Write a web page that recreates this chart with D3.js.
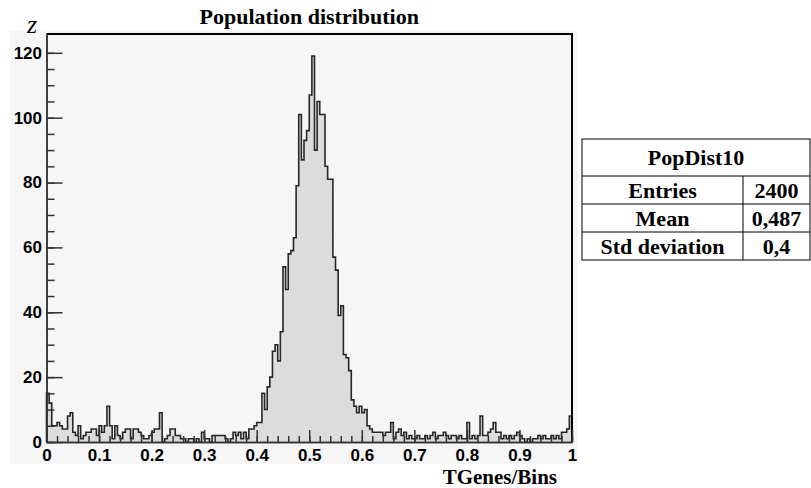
<!DOCTYPE html>
<html><head><meta charset="utf-8">
<script src="https://cdn.jsdelivr.net/npm/d3@7"></script>
<style>body{margin:0;background:#fff;} svg{display:block;}</style>
</head><body>
<svg id="c" width="811" height="488"></svg>
<script>
// ---- data ----
const binEdges = [0, 1];          // histogram range
const counts = [
 15,12,5,5,6,5,4,4,8,9,
 3,2,5,1,2,3,3,4,4,2,
 5,3,5,11,5,1,5,2,1,3,
 4,4,1,4,4,3,2,1,1,2,
 3,4,4,9,0,1,2,4,4,2,
 2,1,1,0,1,1,0,1,0,3,
 1,1,0,2,2,2,2,2,1,0,
 1,3,2,3,1,3,1,4,4,5,
 6,6,15,10,17,20,28,30,25,34,
 54,47,58,59,63,79,101,87,93,96,
 107,119,90,105,101,101,85,81,81,57,
 53,39,42,27,26,22,13,11,9,11,
 9,10,5,4,3,3,3,3,2,3,
 3,6,1,3,4,2,3,1,2,1,
 1,2,1,1,2,1,2,3,1,2,
 2,3,2,1,2,2,1,2,1,1,
 6,1,2,1,2,8,2,2,3,4,
 6,3,3,1,2,1,2,1,2,3,
 2,1,0,1,0,1,1,2,1,2,
 1,1,2,1,2,1,3,3,4,8
];
const xTickValues = [0,0.1,0.2,0.3,0.4,0.5,0.6,0.7,0.8,0.9,1];
const xTickLabels = ["0","0.1","0.2","0.3","0.4","0.5","0.6","0.7","0.8","0.9","1"];
const yTickValues = [0,20,40,60,80,100,120];
const yTickLabels = ["0","20","40","60","80","100","120"];
const yMaxDomain = 125.8;
const titleText = "Population distribution";
const xTitle = "TGenes/Bins";
const yTitle = "z";
const statsName = "PopDist10";
const statsLabels = ["Entries","Mean","Std deviation"];
const statsValues = ["2400","0,487","0,4"];

// ---- layout ----
const svg = d3.select("#c");
const L = 46.5, R = 572, T = 34, B = 442;
const x = d3.scaleLinear().domain(binEdges).range([L, R]);
const y = d3.scaleLinear().domain([0, yMaxDomain]).range([B, T]);

// pad background
svg.append("rect").attr("x",10).attr("y",31).attr("width",568).attr("height",433).attr("fill","#f6f6f6");

// histogram
const n = counts.length, w = (binEdges[1]-binEdges[0])/n;
const pts = [];
counts.forEach((c,i)=>{ pts.push([binEdges[0]+i*w, c]); pts.push([binEdges[0]+(i+1)*w, c]); });
const area = d3.area().x(d=>x(d[0])).y0(y(0)).y1(d=>y(d[1]));
svg.append("path").attr("d", area(pts)).attr("fill","#dcdcdc");
const linePts = [[binEdges[0],0], ...pts, [binEdges[1],0]];
const line = d3.line().x(d=>x(d[0])).y(d=>y(d[1]));
svg.append("path").attr("d", line(linePts)).attr("fill","none").attr("stroke","#262626").attr("stroke-width",1.6);

// frame top/right
svg.append("path").attr("d",`M${L},${T}H${R}V${B}`).attr("fill","none").attr("stroke","#000").attr("stroke-width",2);

// axes
const fontAx = "bold 17px 'Liberation Sans', Arial, sans-serif";
const yMinor = d3.range(0, 121, 5);
svg.append("g").attr("transform",`translate(${L},0)`)
  .call(d3.axisLeft(y).tickValues(yMinor).tickSize(-8).tickSizeOuter(0).tickFormat(""))
  .call(g=>g.selectAll("line,path").attr("stroke","#333").attr("stroke-width",1.5));
svg.append("g").attr("transform",`translate(${L},0)`)
  .call(d3.axisLeft(y).tickValues(yTickValues).tickSize(-16).tickSizeOuter(0).tickPadding(4.5)
        .tickFormat((d,i)=>yTickLabels[i]))
  .call(g=>g.selectAll("line,path").attr("stroke","#333").attr("stroke-width",1.5))
  .call(g=>g.selectAll("text").style("font",fontAx).attr("fill","#000"));

const xMinor = d3.range(0, 51).map(i=>i*0.02);
svg.append("g").attr("transform",`translate(0,${B})`)
  .call(d3.axisBottom(x).tickValues(xMinor).tickSize(-6).tickSizeOuter(0).tickFormat(""))
  .call(g=>g.selectAll("line,path").attr("stroke","#333").attr("stroke-width",1.5));
svg.append("g").attr("transform",`translate(0,${B})`)
  .call(d3.axisBottom(x).tickValues(xTickValues).tickSize(-12).tickSizeOuter(0).tickPadding(6.5)
        .tickFormat((d,i)=>xTickLabels[i]))
  .call(g=>g.selectAll("line,path").attr("stroke","#333").attr("stroke-width",1.5))
  .call(g=>g.selectAll("text").style("font",fontAx).attr("fill","#000"));

// titles
const serifB = "bold 22px 'Liberation Serif', 'Times New Roman', serif";
svg.append("text").attr("x",(L+R)/2).attr("y",24).attr("text-anchor","middle").style("font",serifB).text(titleText);
svg.append("text").attr("x",557).attr("y",484).attr("text-anchor","end")
  .style("font","bold 21px 'Liberation Serif', 'Times New Roman', serif").text(xTitle);
svg.append("text").attr("x",32).attr("y",33).attr("text-anchor","middle")
  .style("font","italic 26px 'Liberation Serif', 'Times New Roman', serif").text(yTitle);

// stats table
const tx0 = 582, tx1 = 810, tcol = 743, rows = [139,176,204,232,260];
const tg = svg.append("g");
tg.append("rect").attr("x",tx0).attr("y",rows[0]).attr("width",tx1-tx0).attr("height",rows[4]-rows[0])
  .attr("fill","#fff").attr("stroke","#000").attr("stroke-width",1);
rows.slice(1,4).forEach(r=>tg.append("line").attr("x1",tx0).attr("x2",tx1).attr("y1",r).attr("y2",r).attr("stroke","#000"));
tg.append("line").attr("x1",tcol).attr("x2",tcol).attr("y1",rows[1]).attr("y2",rows[4]).attr("stroke","#000");
tg.append("text").attr("x",(tx0+tx1)/2).attr("y",(rows[0]+rows[1])/2).attr("dy","0.35em")
  .attr("text-anchor","middle").style("font",serifB).text(statsName);
statsLabels.forEach((s,i)=>{
  tg.append("text").attr("x",(tx0+tcol)/2).attr("y",(rows[i+1]+rows[i+2])/2).attr("dy","0.35em")
    .attr("text-anchor","middle").style("font",serifB).text(s);
  tg.append("text").attr("x",(tcol+tx1)/2).attr("y",(rows[i+1]+rows[i+2])/2).attr("dy","0.35em")
    .attr("text-anchor","middle").style("font",serifB).text(statsValues[i]);
});
</script>
</body></html>
